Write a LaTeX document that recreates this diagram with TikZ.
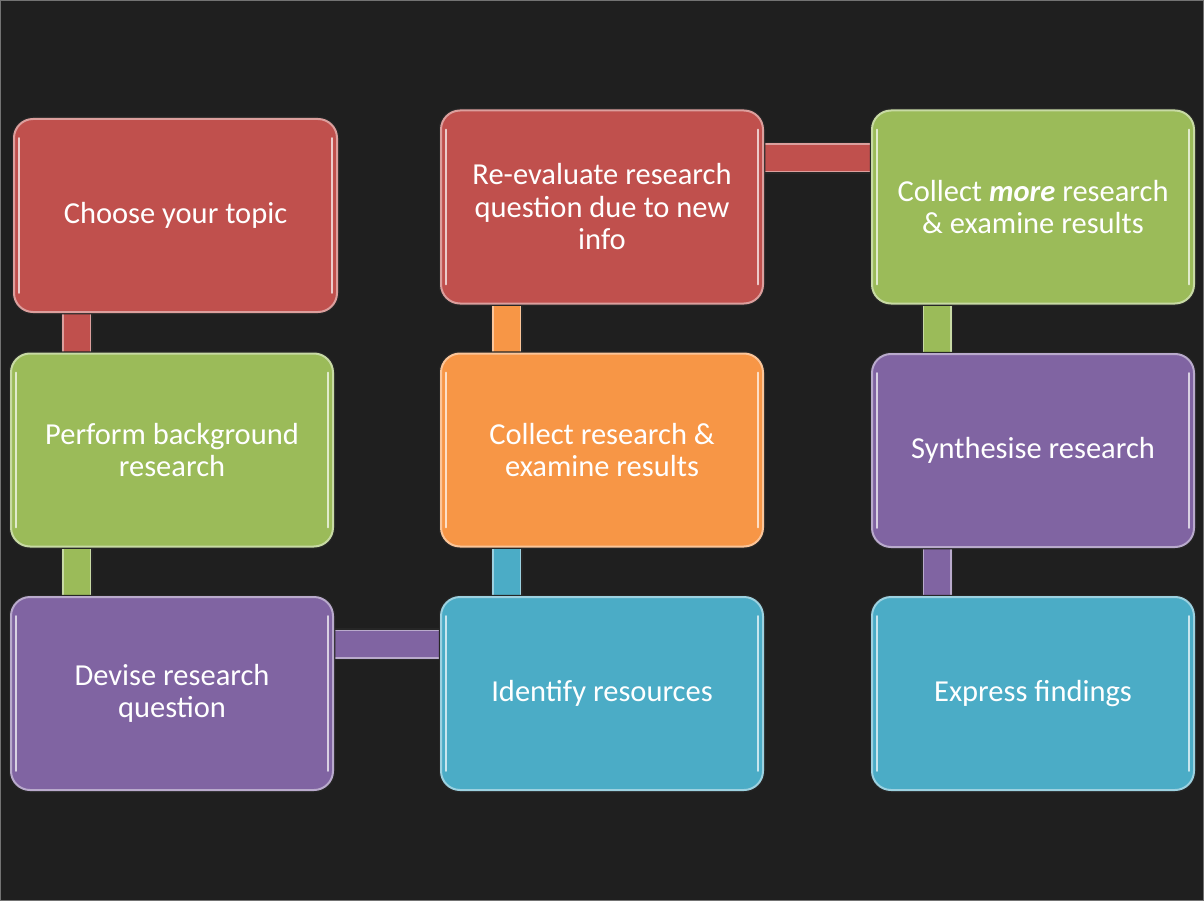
\documentclass[tikz,border=0pt]{standalone}
\usepackage{fontspec}
\setmainfont{Carlito}
\usetikzlibrary{calc}
\definecolor{bg}{HTML}{1F1F1F}
\definecolor{cred}{HTML}{C0504D}
\definecolor{cgreen}{HTML}{9BBB59}
\definecolor{cpurple}{HTML}{8064A2}
\definecolor{cblue}{HTML}{4BACC6}
\definecolor{corange}{HTML}{F79646}
\pgfdeclarelayer{back}
\pgfsetlayers{back,main}
\tikzset{
  stepbox/.style={rounded corners=19pt, minimum width=322pt, minimum height=193pt,
    fill=#1, draw=#1!55!white, line width=2pt,
    preaction={draw=black!85, line width=4.5pt},
    text=white, align=center, font=\fontsize{30.5}{32.5}\selectfont, inner sep=0pt},
  bar/.style={draw=#1!55!white, line width=1.5pt, double=#1, double distance=26pt,
    preaction={draw=black!85, line width=32pt}},
  gloss/.style={draw=#1!30!white, line width=1.6pt, line cap=round},
}
\begin{document}
\begin{tikzpicture}[x=1pt,y=-1pt]
\useasboundingbox (0,0) rectangle (1204,901);

\node[stepbox=cred,    minimum width=323pt] (A) at (175.5,215.5) {Choose your topic};
\node[stepbox=cgreen]  (B) at (172,450)   {Perform background\\research};
\node[stepbox=cpurple] (C) at (172,693.5) {Devise research\\question};
\node[stepbox=cblue]   (D) at (602,693.5) {Identify resources};
\node[stepbox=corange] (E) at (602,450)   {Collect research \&\\examine results};
\node[stepbox=cred]    (F) at (602,207)   {Re-evaluate research\\question due to new\\info};
\node[stepbox=cgreen]  (G) at (1033,207)  {Collect \textbf{\textit{more}} research\\\& examine results};
\node[stepbox=cpurple] (H) at (1033,450.5){Synthesise research};
\node[stepbox=cblue]   (I) at (1033,693.5){Express findings};

\foreach \n/\c in {A/cred,B/cgreen,C/cpurple,D/cblue,E/corange,F/cred,G/cgreen,H/cpurple,I/cblue}{
  \draw[gloss=\c] ([xshift=6pt,yshift=-20pt]\n.north west) -- ([xshift=6pt,yshift=20pt]\n.south west);
  \draw[gloss=\c] ([xshift=-6pt,yshift=-20pt]\n.north east) -- ([xshift=-6pt,yshift=20pt]\n.south east);
}

\begin{pgfonlayer}{back}
\fill[bg] (0,0) rectangle (1204,901);
\draw[black!55, line width=1pt] (0.5,0.5) rectangle (1203.5,900.5);
\draw[bar=cred]    ([xshift=-99pt,yshift=6pt]A.south) -- ([xshift=-99pt,yshift=-6pt]A.south |- B.north);
\draw[bar=cgreen]  ([xshift=-95.5pt,yshift=6pt]B.south) -- ([xshift=-95.5pt,yshift=-6pt]B.south |- C.north);
\draw[bar=cpurple] ([xshift=-6pt,yshift=49.5pt]C.east) -- ([xshift=6pt,yshift=49.5pt]C.east -| D.west);
\draw[bar=cblue]   ([xshift=-95.5pt,yshift=-6pt]D.north) -- ([xshift=-95.5pt,yshift=6pt]D.north |- E.south);
\draw[bar=corange] ([xshift=-95.5pt,yshift=-6pt]E.north) -- ([xshift=-95.5pt,yshift=6pt]E.north |- F.south);
\draw[bar=cred]    ([xshift=-6pt,yshift=49pt]F.east) -- ([xshift=6pt,yshift=49pt]F.east -| G.west);
\draw[bar=cgreen]  ([xshift=-96pt,yshift=6pt]G.south) -- ([xshift=-96pt,yshift=-6pt]G.south |- H.north);
\draw[bar=cpurple] ([xshift=-96pt,yshift=6pt]H.south) -- ([xshift=-96pt,yshift=-6pt]H.south |- I.north);
\end{pgfonlayer}
\end{tikzpicture}
\end{document}
